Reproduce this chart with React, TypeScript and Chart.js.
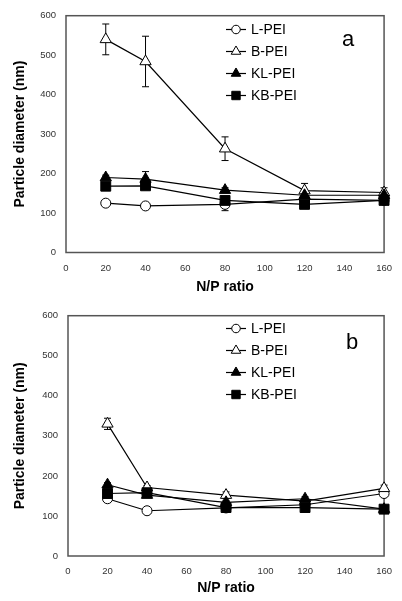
import { useEffect, useRef } from 'react';
import { Chart, registerables } from 'chart.js';

Chart.register(...registerables);

// ---- data ----
const npRatio = [20, 40, 80, 120, 160];
const seriesNames = ['L-PEI', 'B-PEI', 'KL-PEI', 'KB-PEI'];

// panel a
const aLPEI = [125, 118, 122, 135, 132];
const aBPEI = [540, 484, 263, 157, 152];
const aKLPEI = [190, 186, 158, 145, 145];
const aKBPEI = [168, 169, 132, 122, 132];
const aLPEIErr = [4, 4, 16, 4, 4];
const aBPEIErr = [39, 64, 30, 18, 12];
const aKLPEIErr = [6, 19, 6, 6, 6];
const aKBPEIErr = [6, 8, 6, 6, 6];

// panel b
const bLPEI = [143, 113, 120, 128, 156];
const bBPEI = [330, 171, 152, 137, 169];
const bKLPEI = [178, 152, 134, 143, 117];
const bKBPEI = [156, 158, 121, 121, 117];
const bLPEIErr = [4, 4, 4, 4, 4];
const bBPEIErr = [14, 5, 8, 5, 8];
const bKLPEIErr = [5, 5, 5, 5, 5];
const bKBPEIErr = [4, 4, 4, 4, 4];

const xMin = 0;
const xMax = 160;
const xStep = 20;
const yMin = 0;
const yMax = 600;
const yStep = 100;

const xTitle = 'N/P ratio';
const yTitle = 'Particle diameter (nm)';

// ---- styles ----
const FONT = "'Liberation Sans', Arial, Helvetica, sans-serif";
const pointStyles = ['circle', 'triangle', 'triangle', 'rect'];
const pointFills = ['#ffffff', '#ffffff', '#000000', '#000000'];
const pointRadii = [5, 6.5, 6.5, 7];
const drawOrders = [4, 3, 2, 1];
const frameColor = '#555555';

type PanelCfg = {
  label: string;
  values: number[][];
  errors: number[][];
  canvasHeight: number;
  padTop: number;
  yAxisWidth: number;
  xAxisHeight: number;
  legendY0: number;
  labelX: number;
  labelY: number;
};

const panels: PanelCfg[] = [
  {
    label: 'a',
    values: [aLPEI, aBPEI, aKLPEI, aKBPEI],
    errors: [aLPEIErr, aBPEIErr, aKLPEIErr, aKBPEIErr],
    canvasHeight: 300,
    padTop: 9.5,
    yAxisWidth: 66,
    xAxisHeight: 47.5,
    legendY0: 29.5,
    labelX: 348,
    labelY: 40,
  },
  {
    label: 'b',
    values: [bLPEI, bBPEI, bKLPEI, bKBPEI],
    errors: [bLPEIErr, bBPEIErr, bKLPEIErr, bKBPEIErr],
    canvasHeight: 301,
    padTop: 13.3,
    yAxisWidth: 68,
    xAxisHeight: 45,
    legendY0: 28.5,
    labelX: 352,
    labelY: 43,
  },
];

function drawMarker(ctx: CanvasRenderingContext2D, style: string, x: number, y: number, r: number, fill: string) {
  ctx.save();
  ctx.beginPath();
  if (style === 'circle') {
    ctx.arc(x, y, r, 0, Math.PI * 2);
  } else if (style === 'triangle') {
    ctx.moveTo(x, y - r);
    ctx.lineTo(x + Math.sin((2 * Math.PI) / 3) * r, y + 0.5 * r);
    ctx.lineTo(x - Math.sin((2 * Math.PI) / 3) * r, y + 0.5 * r);
    ctx.closePath();
  } else {
    const s = r * Math.SQRT1_2;
    ctx.rect(x - s, y - s, 2 * s, 2 * s);
  }
  ctx.fillStyle = fill;
  ctx.fill();
  ctx.lineWidth = 1;
  ctx.strokeStyle = '#000000';
  ctx.stroke();
  ctx.restore();
}

const framePlugin = {
  id: 'frameAndErrors',
  beforeDatasetsDraw(chart: any) {
    const { ctx, chartArea } = chart;
    ctx.save();
    ctx.strokeStyle = frameColor;
    ctx.lineWidth = 1.5;
    ctx.strokeRect(chartArea.left, chartArea.top, chartArea.right - chartArea.left, chartArea.bottom - chartArea.top);
    ctx.restore();

    const xs = chart.scales.x;
    const ys = chart.scales.y;
    ctx.save();
    ctx.strokeStyle = '#000000';
    ctx.lineWidth = 1;
    chart.data.datasets.forEach((ds: any) => {
      const errs: number[] = ds.errors || [];
      ds.data.forEach((p: any, i: number) => {
        const e = errs[i];
        if (!e) return;
        const px = xs.getPixelForValue(p.x);
        const top = ys.getPixelForValue(p.y + e);
        const bot = ys.getPixelForValue(p.y - e);
        ctx.beginPath();
        ctx.moveTo(px, top);
        ctx.lineTo(px, bot);
        ctx.moveTo(px - 3.5, top);
        ctx.lineTo(px + 3.5, top);
        ctx.moveTo(px - 3.5, bot);
        ctx.lineTo(px + 3.5, bot);
        ctx.stroke();
      });
    });
    ctx.restore();
  },
  afterDatasetsDraw(chart: any, _args: any, opts: any) {
    const { ctx } = chart;
    ctx.save();
    seriesNames.forEach((name, i) => {
      const y = opts.legendY0 + i * 22;
      ctx.beginPath();
      ctx.strokeStyle = '#000000';
      ctx.lineWidth = 1.2;
      ctx.moveTo(226, y);
      ctx.lineTo(246, y);
      ctx.stroke();
      drawMarker(ctx, pointStyles[i], 236, y, pointRadii[i] * 0.85, pointFills[i]);
      ctx.fillStyle = '#000000';
      ctx.font = `14px ${FONT}`;
      ctx.textAlign = 'left';
      ctx.textBaseline = 'middle';
      ctx.fillText(name, 251, y + 0.5);
    });
    ctx.font = `22px ${FONT}`;
    ctx.textAlign = 'center';
    ctx.textBaseline = 'middle';
    ctx.fillStyle = '#000000';
    ctx.fillText(opts.label, opts.labelX, opts.labelY);
    ctx.restore();
  },
};

function PanelChart({ cfg }: { cfg: PanelCfg }) {
  const ref = useRef<HTMLCanvasElement | null>(null);
  useEffect(() => {
    if (!ref.current) return;
    const datasets = seriesNames.map((name, i) => ({
      label: name,
      data: npRatio.map((x, j) => ({ x, y: cfg.values[i][j] })),
      errors: cfg.errors[i],
      borderColor: '#000000',
      borderWidth: 1.2,
      pointStyle: pointStyles[i],
      pointRadius: pointRadii[i],
      pointBackgroundColor: pointFills[i],
      pointBorderColor: '#000000',
      pointBorderWidth: 1,
      fill: false,
      tension: 0,
      clip: false,
      order: drawOrders[i],
    }));
    const chart = new Chart(ref.current, {
      type: 'line',
      data: { datasets } as any,
      options: {
        responsive: false,
        animation: false,
        events: [],
        layout: { padding: { top: cfg.padTop, right: 16, left: 0, bottom: 0 } },
        plugins: {
          legend: { display: false },
          tooltip: { enabled: false },
          frameAndErrors: {
            legendY0: cfg.legendY0,
            label: cfg.label,
            labelX: cfg.labelX,
            labelY: cfg.labelY,
          },
        } as any,
        scales: {
          x: {
            type: 'linear',
            min: xMin,
            max: xMax,
            grid: { display: false, drawTicks: false },
            border: { display: false },
            ticks: {
              stepSize: xStep,
              padding: 10,
              color: '#333333',
              font: { family: FONT, size: 9.5 },
              maxRotation: 0,
            },
            title: {
              display: true,
              text: xTitle,
              color: '#000000',
              font: { family: FONT, size: 14, weight: 'bold' },
              padding: { top: 0, bottom: 4.6 },
            },
            afterFit(scale: any) {
              scale.height = cfg.xAxisHeight;
            },
          },
          y: {
            type: 'linear',
            min: yMin,
            max: yMax,
            grid: { display: false, drawTicks: false },
            border: { display: false },
            ticks: {
              stepSize: yStep,
              padding: 10,
              color: '#333333',
              font: { family: FONT, size: 9.5 },
            },
            title: {
              display: true,
              text: yTitle,
              color: '#000000',
              font: { family: FONT, size: 14, weight: 'bold' },
              padding: { top: 11.6, bottom: 0 },
            },
            afterFit(scale: any) {
              scale.width = cfg.yAxisWidth;
            },
          },
        },
      } as any,
      plugins: [framePlugin],
    });
    return () => chart.destroy();
  }, [cfg]);
  return <canvas ref={ref} width={402} height={cfg.canvasHeight} style={{ display: 'block', width: 402, height: cfg.canvasHeight }} />;
}

export default function App() {
  return (
    <div style={{ position: 'absolute', left: 0, top: 0, width: 402, height: 601, background: '#ffffff' }}>
      <PanelChart cfg={panels[0]} />
      <PanelChart cfg={panels[1]} />
    </div>
  );
}
